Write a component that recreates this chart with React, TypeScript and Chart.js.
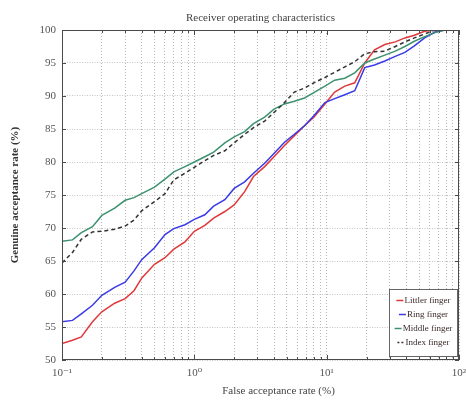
import React, { useEffect, useRef } from "react";
import { Chart, registerables } from "chart.js";

Chart.register(...registerables);

const TITLE = "Receiver operating characteristics";
const X_TITLE = "False acceptance rate (%)";
const Y_TITLE = "Genuine acceptance rate (%)";

const FAR = [0.1, 0.12, 0.14, 0.17, 0.2, 0.25, 0.3, 0.35, 0.4, 0.5, 0.6, 0.7, 0.85, 1, 1.2, 1.4, 1.7, 2, 2.4, 2.8, 3.4, 4, 4.8, 5.7, 6.8, 8, 9.7, 11.5, 13.7, 16.3, 19.4, 23, 27.5, 33, 39, 46, 55, 66, 78, 100];

const LITTLER = [52.5, 53.0, 53.5, 55.8, 57.3, 58.6, 59.3, 60.5, 62.4, 64.5, 65.5, 66.8, 67.9, 69.5, 70.4, 71.5, 72.5, 73.5, 75.5, 77.8, 79.3, 80.8, 82.5, 84.0, 85.5, 86.8, 88.8, 90.6, 91.5, 92.0, 95.0, 97.0, 97.8, 98.2, 98.8, 99.2, 99.8, 100, 100, 100];
const RING = [55.8, 56.0, 57.0, 58.3, 59.8, 61.0, 61.8, 63.5, 65.2, 67.0, 69.0, 69.9, 70.5, 71.3, 72.0, 73.3, 74.3, 76.0, 77.0, 78.3, 79.8, 81.3, 83.0, 84.2, 85.5, 87.0, 89.0, 89.6, 90.2, 90.8, 94.3, 94.7, 95.3, 96.0, 96.6, 97.6, 98.8, 99.7, 100, 100];
const MIDDLE = [68.0, 68.2, 69.3, 70.2, 71.9, 73.0, 74.2, 74.6, 75.2, 76.2, 77.4, 78.5, 79.3, 80.0, 80.8, 81.5, 82.9, 83.8, 84.6, 85.8, 86.8, 88.0, 88.8, 89.2, 89.7, 90.5, 91.5, 92.4, 92.7, 93.5, 95.0, 95.6, 96.2, 96.8, 97.5, 98.3, 99.0, 99.6, 100, 100];
const INDEX = [64.7, 66.3, 68.3, 69.4, 69.5, 69.8, 70.3, 71.2, 72.6, 74.0, 75.2, 77.3, 78.3, 79.2, 80.2, 81.0, 81.7, 82.9, 84.2, 85.2, 86.2, 87.5, 89.0, 90.6, 91.2, 92.0, 92.8, 93.6, 94.4, 95.2, 96.4, 96.7, 96.8, 97.5, 98.2, 98.8, 99.4, 100, 100, 100];

const SERIES_NAMES = ["Littler finger", "Ring finger", "Middle finger", "Index finger"];
const SERIES_VALUES = [LITTLER, RING, MIDDLE, INDEX];
const SERIES_COLORS = ["#e0383a", "#3a3ae6", "#3d9270", "#333333"];
const SERIES_DASH: number[][] = [[], [], [], [4, 3]];
const SERIES_ORDER = [4, 3, 2, 1];

const X_MIN = 0.1;
const X_MAX = 100;
const Y_MIN = 50;
const Y_MAX = 100;
const Y_STEP = 5;
const X_TICK_LABELS: Record<string, string> = { "0.1": "10\u207B\u00B9", "1": "10\u2070", "10": "10\u00B9", "100": "10\u00B2" };

const SERIF = "'Liberation Serif', 'DejaVu Serif', serif";

function logTickValues(): number[] {
  const vals: number[] = [];
  for (let d = X_MIN; d < X_MAX * 0.999; d *= 10) {
    for (let m = 1; m <= 9; m++) vals.push(parseFloat((m * d).toPrecision(6)));
  }
  vals.push(X_MAX);
  return vals;
}

function isDecade(v: number): boolean {
  const l = Math.log10(v);
  return Math.abs(l - Math.round(l)) < 1e-6;
}

const framePlugin = {
  id: "frameAndLegend",
  afterDatasetsDraw(chart: any) {
    const { ctx, chartArea, scales } = chart;
    const { left, right, top, bottom } = chartArea;
    ctx.save();
    ctx.strokeStyle = "#4a4a4a";
    ctx.lineWidth = 1;
    ctx.setLineDash([]);
    const seg = (x1: number, y1: number, x2: number, y2: number) => {
      ctx.beginPath();
      ctx.moveTo(x1, y1);
      ctx.lineTo(x2, y2);
      ctx.stroke();
    };
    scales.x.ticks.forEach((t: any) => {
      const px = Math.round(scales.x.getPixelForValue(t.value)) + 0.5;
      const len = isDecade(t.value) ? 5 : 3;
      seg(px, bottom, px, bottom - len);
      seg(px, top, px, top + len);
    });
    scales.y.ticks.forEach((t: any) => {
      const py = Math.round(scales.y.getPixelForValue(t.value)) + 0.5;
      seg(left, py, left + 4, py);
      seg(right, py, right - 4, py);
    });
    ctx.strokeRect(Math.round(left) + 0.5, Math.round(top) + 0.5, Math.round(right - left) - 1, Math.round(bottom - top) - 1);

    // x axis title (placed slightly right of centre, as in the original figure)
    ctx.font = "11px " + SERIF;
    ctx.fillStyle = "#444";
    ctx.textAlign = "center";
    ctx.textBaseline = "middle";
    ctx.fillText(X_TITLE, (left + right) / 2 + 18, bottom + 31);

    // legend box in the lower right corner of the plot
    const boxW = 68;
    const boxH = 67;
    const bx = Math.round(right) - boxW - 1.5;
    const by = Math.round(bottom) - boxH - 3.5;
    ctx.fillStyle = "#ffffff";
    ctx.fillRect(bx, by, boxW, boxH);
    ctx.strokeStyle = "#666";
    ctx.strokeRect(bx, by, boxW, boxH);
    ctx.font = "9px " + SERIF;
    ctx.textBaseline = "middle";
    ctx.textAlign = "left";
    const rowH = 14;
    SERIES_NAMES.forEach((name, i) => {
      const cy = by + 11 + i * rowH;
      const sample = 7;
      const tw = ctx.measureText(name).width;
      const total = sample + 1 + tw;
      const sx = bx + (boxW - total) / 2;
      ctx.strokeStyle = SERIES_COLORS[i];
      ctx.lineWidth = 1.5;
      ctx.setLineDash(SERIES_DASH[i].length ? [2, 2] : []);
      seg(sx, cy, sx + sample, cy);
      ctx.setLineDash([]);
      ctx.fillStyle = "#3a2a2a";
      ctx.fillText(name, sx + sample + 1, cy);
    });
    ctx.restore();
  },
};

export default function App() {
  const ref = useRef<HTMLCanvasElement | null>(null);

  useEffect(() => {
    if (!ref.current) return;
    const datasets = SERIES_NAMES.map((name, i) => ({
      label: name,
      data: FAR.map((x, j) => ({ x, y: SERIES_VALUES[i][j] })),
      borderColor: SERIES_COLORS[i],
      borderWidth: 1.5,
      borderDash: SERIES_DASH[i],
      pointRadius: 0,
      tension: 0,
      fill: false,
      order: SERIES_ORDER[i],
    }));

    const chart = new Chart(ref.current, {
      type: "line",
      data: { datasets },
      plugins: [framePlugin],
      options: {
        animation: false,
        responsive: false,
        devicePixelRatio: 1,
        layout: { padding: { left: 0, right: 21, top: 0, bottom: 0 } },
        plugins: {
          legend: { display: false },
          tooltip: { enabled: false },
          title: {
            display: true,
            text: TITLE,
            fullSize: false,
            color: "#444",
            font: { family: SERIF, size: 11, weight: "normal" },
            padding: { top: 11.4, bottom: 5.4 },
          },
        },
        scales: {
          x: {
            type: "logarithmic",
            min: X_MIN,
            max: X_MAX,
            afterBuildTicks: (scale: any) => {
              scale.ticks = logTickValues().map((v) => ({ value: v }));
            },
            afterFit: (scale: any) => {
              scale.height = 41;
            },
            grid: { color: "#b8b8b8", lineWidth: 1, drawTicks: false },
            border: { display: false, dash: [1, 2] },
            ticks: {
              autoSkip: false,
              maxRotation: 0,
              padding: 7,
              color: "#555",
              font: { family: SERIF, size: 11 },
              callback: (v: any) => X_TICK_LABELS[String(parseFloat(Number(v).toPrecision(6)))] ?? "",
            },
            title: { display: false, text: X_TITLE },
          },
          y: {
            type: "linear",
            min: Y_MIN,
            max: Y_MAX,
            afterFit: (scale: any) => {
              scale.width = 62;
            },
            grid: { color: "#c4c4c4", lineWidth: 1, drawTicks: false },
            border: { display: false, dash: [1, 1.5] },
            ticks: {
              stepSize: Y_STEP,
              padding: 6,
              color: "#555",
              font: { family: SERIF, size: 11 },
            },
            title: {
              display: true,
              text: Y_TITLE,
              color: "#333",
              font: { family: SERIF, size: 11, weight: "bold" },
              padding: { top: 8.4, bottom: 0 },
            },
          },
        },
      },
    });
    return () => chart.destroy();
  }, []);

  return (
    <div style={{ position: "fixed", left: 0, top: 0, width: 466, height: 401, overflow: "hidden", background: "#fff" }}>
      <canvas ref={ref} width={480} height={401} style={{ display: "block" }} />
    </div>
  );
}
